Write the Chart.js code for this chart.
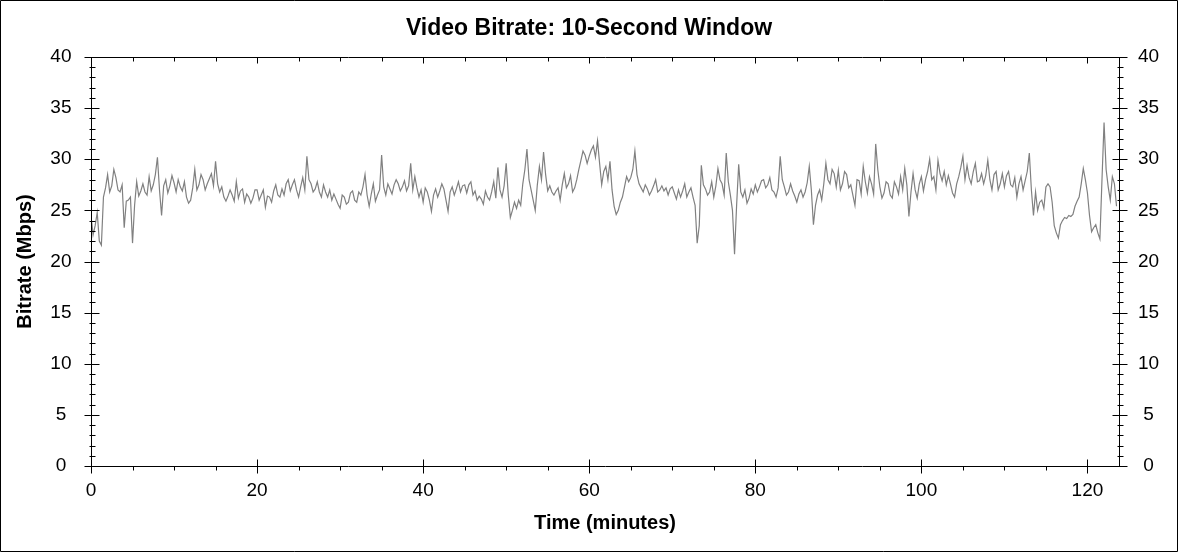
<!DOCTYPE html>
<html>
<head>
<meta charset="utf-8">
<title>Video Bitrate: 10-Second Window</title>
<script src="https://cdn.jsdelivr.net/npm/chart.js@4.4.1/dist/chart.umd.min.js"></script>
<style>
    html, body { margin: 0; padding: 0; background: #fff; }
    #wrap { position: relative; width: 1178px; height: 552px; }
</style>
</head>
<body>
<div id="wrap"><canvas id="bitrateChart"></canvas></div>
<script>
// Bitrate readings (Mbps), one every half minute starting at 0
const sampleStep = 0.5;
const bitrate = [
    24.5, 23.5, 22.0, 26.3, 28.5, 27.4, 28.2, 26.8, 23.3, 26.0,
    21.8, 27.8, 26.9, 26.8, 28.3, 27.5, 30.2, 24.5, 28.0, 27.4,
    27.7, 28.0, 26.9, 26.3, 26.0, 29.0, 27.5, 28.0, 27.6, 28.6,
    29.8, 26.8, 26.3, 26.4, 26.5, 27.8, 26.9, 25.8, 26.3, 26.2,
    27.0, 26.5, 25.3, 26.3, 26.9, 26.5, 27.1, 27.6, 26.9, 28.0,
    26.3, 28.2, 30.3, 27.6, 27.1, 26.8, 27.5, 26.3, 26.0, 26.1,
    25.2, 26.3, 25.8, 26.9, 25.8, 26.5, 28.5, 25.4, 27.6, 26.5,
    30.4, 26.5, 27.1, 27.5, 27.6, 27.3, 26.9, 29.6, 28.3, 26.3,
    25.8, 26.8, 24.9, 27.1, 26.9, 27.1, 24.9, 27.3, 27.1, 26.8,
    27.5, 27.5, 26.5, 26.0, 26.1, 26.9, 26.0, 27.8, 29.2, 26.3,
    29.6, 24.3, 25.8, 26.0, 27.6, 31.0, 27.0, 25.0, 29.3, 30.7,
    26.9, 26.8, 26.9, 26.0, 28.6, 27.6, 26.8, 28.0, 29.9, 30.4,
    30.3, 31.3, 31.8, 27.5, 29.3, 29.8, 25.4, 25.0, 26.3, 28.3,
    28.2, 30.8, 27.6, 26.8, 27.1, 26.9, 28.0, 27.0, 26.9, 26.5,
    27.3, 26.1, 26.3, 27.6, 26.8, 26.3, 21.8, 29.4, 27.1, 26.8,
    26.3, 29.1, 27.6, 30.6, 26.5, 20.7, 29.5, 26.3, 25.7, 27.1,
    27.5, 27.3, 28.0, 27.5, 27.0, 26.3, 30.3, 27.3, 26.8, 26.9,
    25.8, 27.0, 26.8, 29.3, 23.6, 26.5, 26.0, 29.6, 27.6, 28.6,
    28.9, 27.6, 28.5, 27.5, 25.5, 27.9, 29.3, 26.7, 27.6, 31.5,
    27.3, 26.7, 27.6, 26.2, 27.3, 28.3, 29.1, 24.4, 28.6, 26.2,
    28.3, 28.0, 30.0, 28.3, 29.9, 27.9, 27.5, 27.6, 26.3, 28.3,
    30.3, 29.4, 27.6, 29.6, 27.9, 27.6, 29.9, 27.0, 28.8, 27.6,
    27.3, 28.8, 27.3, 26.3, 28.3, 27.9, 30.6, 24.5, 25.0, 26.0,
    27.3, 27.3, 23.5, 22.3, 24.0, 24.2, 24.4, 25.4, 26.3, 29.1,
    26.7, 22.9, 23.6, 22.2, 33.6, 27.3, 28.3, 25.4
];
// readings a quarter minute after each of the above (other edge of the noisy band)
const midSamples = [
    22.6, 24.8, 21.6, 27.2, 26.8, 29.0, 27.0, 27.5, 25.9, 26.3,
    25.5, 26.4, 27.6, 26.5, 26.9, 28.5, 27.0, 27.4, 26.7, 28.4,
    26.8, 27.3, 27.8, 25.7, 27.2, 27.0, 28.5, 27.0, 28.1, 27.4,
    27.6, 27.3, 25.9, 27.0, 25.9, 26.2, 27.1, 26.6, 25.7, 27.0,
    26.0, 27.0, 26.4, 25.8, 27.5, 26.3, 26.5, 28.0, 27.5, 27.0,
    27.3, 27.0, 28.0, 26.8, 27.8, 26.3, 26.8, 27.0, 26.6, 25.6,
    26.5, 25.6, 26.7, 26.0, 26.8, 27.3, 26.5, 26.6, 25.9, 27.0,
    27.3, 27.6, 26.6, 28.0, 26.9, 27.9, 27.4, 27.0, 27.2, 27.0,
    27.2, 26.0, 26.5, 26.3, 27.6, 26.0, 26.8, 26.5, 27.8, 27.4,
    26.7, 27.8, 26.9, 26.4, 25.6, 26.3, 26.8, 26.2, 27.0, 27.4,
    26.5, 25.0, 25.2, 25.5, 29.0, 28.0, 26.0, 27.5, 28.0, 28.5,
    27.4, 26.5, 27.2, 27.5, 27.2, 28.4, 27.2, 29.0, 30.8, 29.6,
    30.9, 30.2, 29.6, 28.8, 28.0, 27.0, 24.6, 25.8, 27.3, 27.8,
    29.0, 28.5, 27.2, 27.5, 26.5, 27.4, 26.8, 27.4, 27.2, 27.1,
    26.7, 27.0, 26.9, 26.3, 27.2, 25.5, 23.5, 27.5, 26.5, 27.8,
    27.4, 28.0, 26.5, 27.8, 25.0, 25.5, 26.8, 27.0, 26.2, 26.6,
    26.8, 27.9, 27.2, 28.2, 26.8, 27.2, 28.0, 26.5, 27.6, 26.4,
    26.6, 26.3, 27.7, 27.0, 25.5, 27.0, 27.6, 28.0, 29.0, 27.3,
    27.0, 28.8, 27.2, 26.5, 28.0, 26.6, 27.8, 28.3, 26.6, 29.0,
    26.2, 27.8, 26.5, 27.8, 26.6, 27.0, 27.5, 26.8, 27.0, 27.6,
    26.9, 28.8, 28.0, 27.0, 28.6, 28.8, 28.4, 26.7, 27.6, 29.2,
    28.0, 28.2, 28.8, 27.8, 28.6, 28.4, 28.0, 28.5, 27.0, 28.6,
    28.4, 27.5, 28.2, 27.6, 27.0, 28.8, 27.0, 26.8, 25.8, 25.2,
    27.6, 25.8, 22.8, 23.6, 24.3, 24.5, 24.6, 25.9, 27.6, 28.0,
    24.5, 23.3, 22.8, 28.0, 29.0, 26.0, 27.6
];

// Axis ranges and tick labels
const xMax = 123.8;
const xTicks = [0, 20, 40, 60, 80, 100, 120];
const xMinorStep = 5;
const yTicks = [0, 5, 10, 15, 20, 25, 30, 35, 40];
const yMinorStep = 1;

const FONT = "'Liberation Sans', Arial, sans-serif";

// Frame, crossing ticks and outer border (drawn through the scales)
const frameTicks = {
    id: 'frameTicks',
    afterDraw(chart) {
        const { ctx, chartArea: a, scales } = chart;
        const x = scales.x, y = scales.y;
        const L = Math.round(a.left) + 0.5, R = Math.round(a.right) + 0.5;
        const T = Math.round(a.top) + 0.5, B = Math.round(a.bottom) + 0.5;
        ctx.save();
        ctx.strokeStyle = '#000';
        ctx.lineWidth = 1;
        ctx.beginPath();
        ctx.rect(L, T, R - L, B - T);
        ctx.rect(0.5, 0.5, chart.width - 1, chart.height - 1);

        // y ticks, both sides
        for (let v = y.min; v <= y.max; v += yMinorStep) {
            const py = Math.round(y.getPixelForValue(v)) + 0.5;
            const major = yTicks.includes(v);
            const a1 = major ? -7 : -2, a2 = major ? 8 : 4;
            ctx.moveTo(L + a1, py); ctx.lineTo(L + a2, py);
            ctx.moveTo(R + a1, py); ctx.lineTo(R + a2, py);
        }
        // x ticks, bottom and top
        for (let v = 0; v <= x.max; v += xMinorStep) {
            const px = Math.round(x.getPixelForValue(v)) + 0.5;
            const major = xTicks.includes(v);
            if (major) {
                ctx.moveTo(px, B - 7); ctx.lineTo(px, B + 7);
                ctx.moveTo(px, T); ctx.lineTo(px, T + 6);
            } else {
                ctx.moveTo(px, B); ctx.lineTo(px, B + 4);
                ctx.moveTo(px, T); ctx.lineTo(px, T + 4);
            }
        }
        ctx.stroke();
        ctx.restore();
    }
};

function initChart() {
    const points = [];
    bitrate.forEach((v, i) => {
        points.push({ x: i * sampleStep, y: v });
        if (i < midSamples.length) {
            points.push({ x: i * sampleStep + sampleStep / 2, y: midSamples[i] });
        }
    });

    const ctx = document.getElementById('bitrateChart').getContext('2d');
    new Chart(ctx, {
        type: 'line',
        data: {
            datasets: [{
                label: 'Bitrate',
                data: points,
                borderColor: '#808080',
                borderWidth: 1.2,
                pointRadius: 0,
                tension: 0,
                fill: false,
                yAxisID: 'y'
            }]
        },
        options: {
            responsive: true,
            maintainAspectRatio: false,
            animation: false,
            events: [],
            layout: { padding: 0 },
            plugins: {
                legend: { display: false },
                tooltip: { enabled: false },
                title: {
                    display: true,
                    text: 'Video Bitrate: 10-Second Window',
                    color: '#000',
                    font: { family: FONT, size: 23, weight: 'bold' },
                    padding: { top: 14.8, bottom: 14.6 }
                }
            },
            scales: {
                x: {
                    type: 'linear',
                    position: 'bottom',
                    min: 0,
                    max: xMax,
                    afterBuildTicks: s => { s.ticks = xTicks.map(v => ({ value: v })); },
                    afterFit: s => { s.height = 86; },
                    grid: { display: false, drawTicks: false },
                    border: { display: false },
                    ticks: {
                        color: '#000',
                        font: { family: FONT, size: 19 },
                        padding: 13.5,
                        maxRotation: 0,
                        autoSkip: false
                    },
                    title: {
                        display: true,
                        text: 'Time (minutes)',
                        color: '#000',
                        font: { family: FONT, size: 20, weight: 'bold' },
                        padding: { top: 0, bottom: 17 }
                    }
                },
                y: {
                    position: 'left',
                    min: 0,
                    max: 40,
                    afterBuildTicks: s => { s.ticks = yTicks.map(v => ({ value: v })); },
                    afterFit: s => { s.width = 91; },
                    grid: { display: false, drawTicks: false },
                    border: { display: false },
                    ticks: {
                        color: '#000',
                        font: { family: FONT, size: 19 },
                        crossAlign: 'center',
                        padding: 19.5
                    },
                    title: {
                        display: true,
                        text: 'Bitrate (Mbps)',
                        color: '#000',
                        font: { family: FONT, size: 20, weight: 'bold' },
                        padding: { top: 13, bottom: 0 }
                    }
                },
                y2: {
                    position: 'right',
                    min: 0,
                    max: 40,
                    afterBuildTicks: s => { s.ticks = yTicks.map(v => ({ value: v })); },
                    afterFit: s => { s.width = 59; },
                    grid: { display: false, drawTicks: false },
                    border: { display: false },
                    ticks: {
                        color: '#000',
                        font: { family: FONT, size: 19 },
                        crossAlign: 'center',
                        padding: 19
                    }
                }
            }
        },
        plugins: [frameTicks]
    });
}

document.addEventListener('DOMContentLoaded', function() {
    initChart();
});
</script>
</body>
</html>
